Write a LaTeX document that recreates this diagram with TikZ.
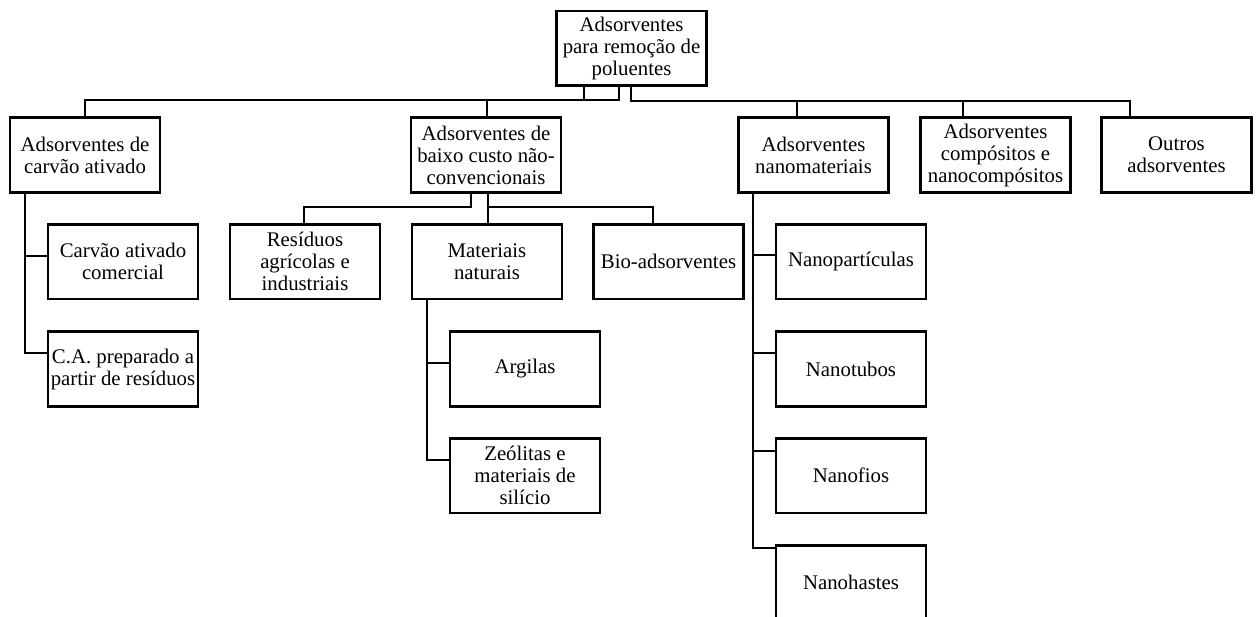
\documentclass[tikz,border=0pt]{standalone}
\usepackage{fontspec}
\setmainfont{Liberation Serif}
\begin{document}
\begin{tikzpicture}[x=0.75pt,y=-0.75pt,
  box/.style={draw,line width=2pt,minimum width=112.5pt,minimum height=56pt,inner sep=0pt,align=center,font=\fontsize{15.6}{16.5}\selectfont},
  conn/.style={line width=2pt}]
\clip (0,0) rectangle (1259,617);
% level 0
\node[box] (root) at (631.5,48.5) {Adsorventes\\para remoção de\\poluentes};
% level 1
\node[box] (b1) at (85,155) {Adsorventes de\\carvão ativado};
\node[box] (b2) at (486,155) {Adsorventes de\\baixo custo não-\\convencionais};
\node[box] (b3) at (813.5,155) {Adsorventes\\nanomateriais};
\node[box] (b4) at (995.5,155) {Adsorventes\\compósitos e\\nanocompósitos};
\node[box] (b5) at (1176.5,155) {Outros\\adsorventes};
% level 2
\node[box] (carv) at (123,261.5) {Carvão ativado\\comercial};
\node[box] (ca) at (123,369) {C.A. preparado a\\partir de resíduos};
\node[box] (res) at (305,261.5) {Resíduos\\agrícolas e\\industriais};
\node[box] (mat) at (487,261.5) {Materiais\\naturais};
\node[box] (bio) at (668.5,261.5) {Bio-adsorventes};
\node[box] (arg) at (525,369) {Argilas};
\node[box] (zeo) at (525,475.5) {Zeólitas e\\materiais de\\silício};
\node[box] (npart) at (851,261.5) {Nanopartículas};
\node[box] (ntub) at (851,369) {Nanotubos};
\node[box] (nfio) at (851,475.5) {Nanofios};
\node[box] (nhas) at (851,582.5) {Nanohastes};
% root connectors
\draw[conn] (root.south -| 584,0) -- (584,100);
\draw[conn] (root.south -| 619,0) -- (619,100) -| (b1.north -| 85,0);
\draw[conn] (487,100) -- (b2.north -| 487,0);
\draw[conn] (root.south -| 631,0) -- (631,101) -| (b5.north -| 1130,0);
\draw[conn] (797,101) -- (b3.north -| 797,0);
\draw[conn] (963,101) -- (b4.north -| 963,0);
% b1 children
\draw[conn] (b1.south -| 25,0) |- (ca.west |- 0,353);
\draw[conn] (25,256) -- (carv.west |- 0,256);
% b2 children
\draw[conn] (b2.south -| 471,0) -- (471,207) -| (res.north -| 304,0);
\draw[conn] (b2.south -| 488,0) -- (mat.north -| 488,0);
\draw[conn] (488,207) -| (bio.north -| 653,0);
% mat children
\draw[conn] (mat.south -| 427,0) |- (zeo.west |- 0,460);
\draw[conn] (427,363) -- (arg.west |- 0,363);
% b3 children
\draw[conn] (b3.south -| 753,0) |- (nhas.west |- 0,548);
\draw[conn] (753,255) -- (npart.west |- 0,255);
\draw[conn] (753,353) -- (ntub.west |- 0,353);
\draw[conn] (753,451) -- (nfio.west |- 0,451);
\end{tikzpicture}
\end{document}
